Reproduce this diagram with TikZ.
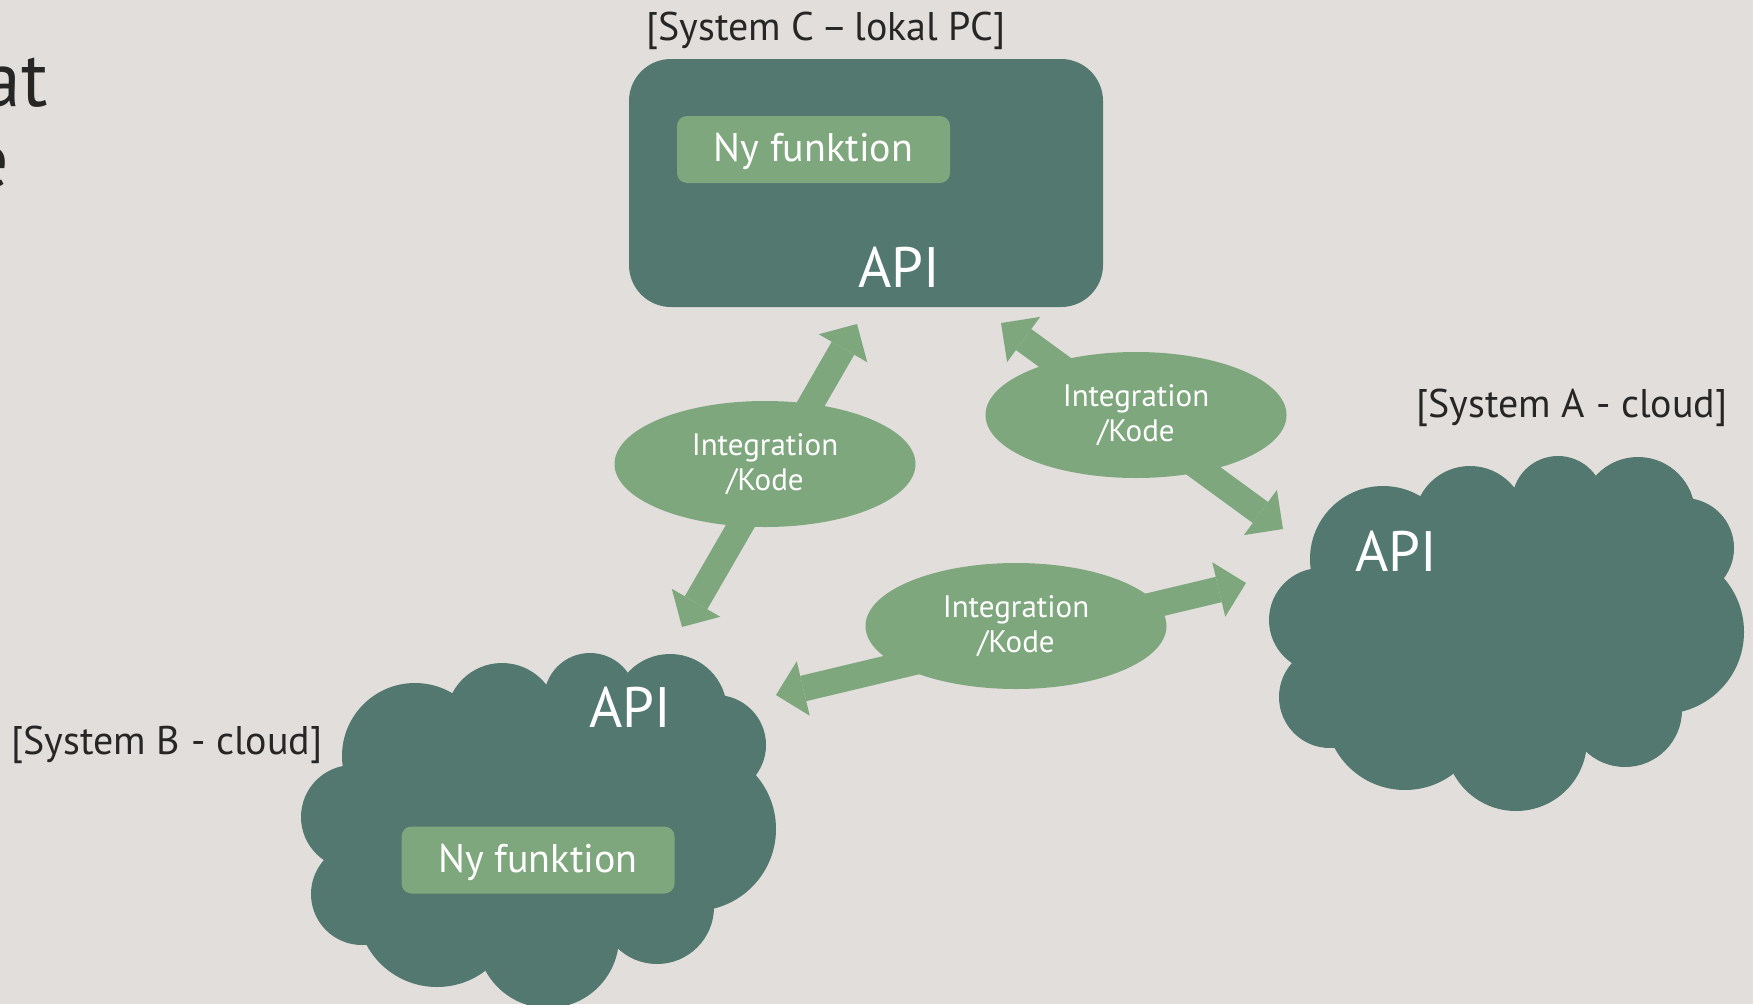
\documentclass[tikz,border=0pt]{standalone}
\usepackage{fontspec}
\setmainfont{PT Sans}
\usetikzlibrary{arrows.meta}
\usetikzlibrary{shapes.geometric}

\definecolor{slidebg}{HTML}{E1DEDB}
\definecolor{systeal}{HTML}{527870}
\definecolor{intgreen}{HTML}{7EA77E}
\definecolor{labelgray}{HTML}{262626}

\tikzset{
  syslabel/.style={text=labelgray, font=\fontsize{40}{48}\selectfont, anchor=base, inner sep=0pt},
  apilabel/.style={text=white, font=\fontsize{57}{68}\selectfont, anchor=base, inner sep=0pt},
  titletext/.style={text=labelgray, font=\fontsize{78}{90}\selectfont, anchor=base east, inner sep=0pt},
  sysbox/.style={fill=systeal, rounded corners=42pt, minimum width=474pt, minimum height=248pt, inner sep=0pt},
  funcbox/.style={fill=intgreen, text=white, rounded corners=10pt, minimum width=273pt, minimum height=67pt, inner sep=0pt, text depth=4pt, font=\fontsize{40}{48}\selectfont},
  intnode/.style={ellipse, fill=intgreen, text=white, minimum width=301pt, minimum height=126pt, inner sep=0pt, align=center, font=\fontsize{31}{35}\selectfont},
  biarrow/.style={draw=intgreen, line width=26pt, {Triangle[width=56pt,length=28pt,line width=0pt]}-{Triangle[width=56pt,length=28pt,line width=0pt]}},
  cloudshape/.pic={
    % puffs round a filled core
    \fill[systeal] (114,104) -- (201,67) -- (289,47) -- (369,59) -- (415,93) -- (393,177)
      -- (356,255) -- (247,285) -- (136,255) -- (61,242) -- (52,165) -- cycle;
    \foreach \cx/\cy/\r in {114/104/73, 201/67/56, 289/47/46, 369/59/57, 415/93/50, 393/177/82,
                             356/255/57, 247/285/71, 136/255/80, 61/242/51, 52/165/52}
      \fill[systeal] (\cx,\cy) circle (\r pt);
  }
}

\begin{document}
\begin{tikzpicture}[x=1pt,y=-1pt]
  % Background
  \useasboundingbox (0,0) rectangle (1753,1004);
  \fill[slidebg] (0,0) rectangle (1753,1004);

  % Cut title at the left edge
  \node[titletext] (titleA) at (48,106) {at};
  \node[titletext] (titleB) at (9,187) {e};

  % System C
  \node[sysbox] (sysC) at (866,183) {};
  \node[funcbox] (funcC) at (813.5,149.5) {Ny funktion};
  \node[apilabel] (apiC) at (899,287) {API};
  \node[syslabel] (labelC) at (826,40) {[System C\,–\,lokal PC]};

  % System A
  \pic at (1269,455) {cloudshape};
  \node[apilabel] (apiA) at (1396,571) {API};
  \node[syslabel] (labelA) at (1572,417) {[System A - cloud]};

  % System B
  \pic at (301,652) {cloudshape};
  \node[apilabel] (apiB) at (630,727) {API};
  \node[funcbox] (funcB) at (538,860) {Ny funktion};
  \node[syslabel] (labelB) at (167,754) {[System B - cloud]};

  % Arrow ends
  \coordinate (cLeft) at (857,324);
  \coordinate (bTop) at (682,627);
  \coordinate (cRight) at (1001,323);
  \coordinate (aTop) at (1283,529);
  \coordinate (bRight) at (776,695);
  \coordinate (aLeft) at (1246,583);

  % Integrations
  \draw[biarrow] (bTop) -- (cLeft);
  \draw[biarrow] (cRight) -- (aTop);
  \draw[biarrow] (bRight) -- (aLeft);
  \node[intnode] (intCB) at (765,464) {Integration\\/Kode};
  \node[intnode] (intCA) at (1136,415) {Integration\\/Kode};
  \node[intnode] (intBA) at (1016,626) {Integration\\/Kode};
\end{tikzpicture}
\end{document}
